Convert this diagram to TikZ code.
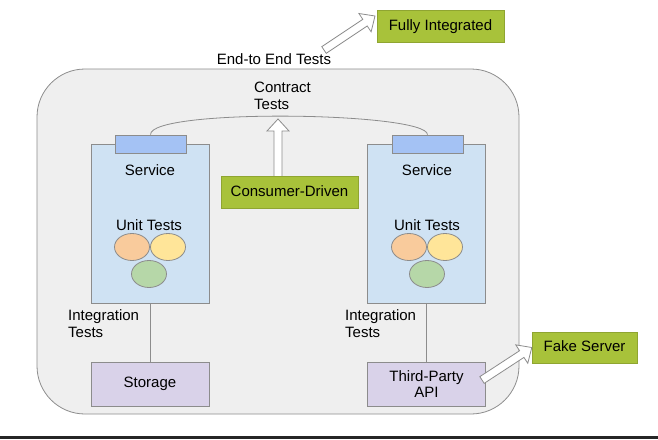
\documentclass[tikz,border=0pt]{standalone}
\usepackage{fontspec}
\setmainfont{Liberation Sans}
\usetikzlibrary{positioning, calc, shapes.geometric}

\definecolor{panelgray}{HTML}{EFEFEF}
\definecolor{linegray}{HTML}{8C8C8C}
\definecolor{svcblue}{HTML}{CFE2F3}
\definecolor{tabblue}{HTML}{A4C2F4}
\definecolor{storelilac}{HTML}{D9D2E9}
\definecolor{taggreen}{HTML}{A8C23A}
\definecolor{unitorange}{HTML}{F9CB9C}
\definecolor{unityellow}{HTML}{FFE599}
\definecolor{unitgreen}{HTML}{B6D7A8}

\tikzset{
  every node/.style={font=\fontsize{15}{17}\selectfont},
  panel/.style={draw=linegray, fill=panelgray, line width=0.8pt, rounded corners=48},
  svcbox/.style={draw=linegray, fill=svcblue, line width=0.8pt, minimum width=118, minimum height=159, inner sep=0pt},
  tabbox/.style={draw=linegray, fill=tabblue, line width=0.8pt, minimum width=71, minimum height=18, inner sep=0pt},
  storebox/.style={draw=linegray, fill=storelilac, line width=0.8pt, minimum width=118, minimum height=44, inner sep=0pt, align=center},
  tagbox/.style={fill=taggreen, draw=taggreen!85!black, line width=0.4pt, minimum height=32, inner sep=0pt, text height=8pt, text depth=0pt},
  unit/.style={ellipse, draw=linegray, line width=0.8pt, minimum width=35, minimum height=27, inner sep=0pt},
  txt/.style={align=left, inner sep=0pt},
  link/.style={draw=linegray, line width=0.8pt},
  hollow/.style={draw=linegray, fill=white, line width=0.8pt, line join=miter}
}

% hollow block arrow from #1 to #2
\newcommand{\hollowarrow}[2]{%
  \coordinate (hbase) at ($(#2)!12pt!(#1)$);
  \draw[hollow] ($(#1)!4pt!90:(#2)$) -- ($(hbase)!4pt!-90:(#1)$) -- ($(hbase)!11pt!-90:(#1)$)
    -- (#2) -- ($(hbase)!11pt!90:(#1)$) -- ($(hbase)!4pt!90:(#1)$) -- ($(#1)!4pt!-90:(#2)$) -- cycle;}

\begin{document}
\begin{tikzpicture}[x=1pt, y=-1pt]
    \useasboundingbox (0,0) rectangle (658,439);

    % Panel
    \draw[panel] (37,69) rectangle (519,414);
    \fill[black!85] (0,436) rectangle (658,439);

    % Services
    \node[svcbox] (lsvc) at (150,223.5) {};
    \node[svcbox] (rsvc) at (426.5,223.5) {};
    \node[tabbox] (ltab) at (150.5,144) {};
    \node[tabbox] (rtab) at (427.5,144) {};
    \node[txt] (lname) at (150,170) {Service};
    \node[txt] (rname) at (427,170) {Service};

    % Unit tests
    \node[txt] (lunit) at (149,225) {Unit Tests};
    \node[unit, fill=unitorange] (lorange) at (132,247) {};
    \node[unit, fill=unityellow] (lyellow) at (168,247) {};
    \node[unit, fill=unitgreen] (lgreen) at (149,274) {};
    \node[txt] (runit) at (427,225) {Unit Tests};
    \node[unit, fill=unitorange] (rorange) at (409,247) {};
    \node[unit, fill=unityellow] (ryellow) at (445,247) {};
    \node[unit, fill=unitgreen] (rgreen) at (427,274) {};

    % Storage and API
    \node[storebox] (storage) at (150,384) {\raisebox{-1.5pt}{Storage}};
    \node[storebox] (api) at (426.5,384) {Third-Party\\[-1pt]API};
    \draw[link] (lsvc.south) -- (storage.north);
    \draw[link] (rsvc.south) -- (api.north);
    \node[txt, anchor=west] (linteg) at (68,324) {Integration\\Tests};
    \node[txt, anchor=west] (rinteg) at (345,324) {Integration\\Tests};

    % Contract tests
    \draw[link] (ltab.north) .. controls (150,108) and (427,112) .. (rtab.north);
    \node[txt, anchor=west] (contract) at (254,96) {Contract\\Tests};
    \coordinate (cdtail) at (278,178);
    \coordinate (cdtip) at (278,119);
    \hollowarrow{cdtail}{cdtip}
    \node[tagbox, minimum width=137] (consumer) at (289.5,192) {Consumer-Driven};

    % End to end
    \node[txt] (e2e) at (274,59) {End-to End Tests};
    \coordinate (e2etail) at (324,50);
    \coordinate (e2etip) at (375,16);
    \hollowarrow{e2etail}{e2etip}
    \node[tagbox, minimum width=127] (fully) at (440.5,26) {Fully Integrated};

    % Fake server
    \node[tagbox, minimum width=105, minimum height=31] (fake) at (584.5,347.5) {Fake Server};
    \coordinate (apitail) at (482,380);
    \hollowarrow{apitail}{fake.west}
\end{tikzpicture}
\end{document}
